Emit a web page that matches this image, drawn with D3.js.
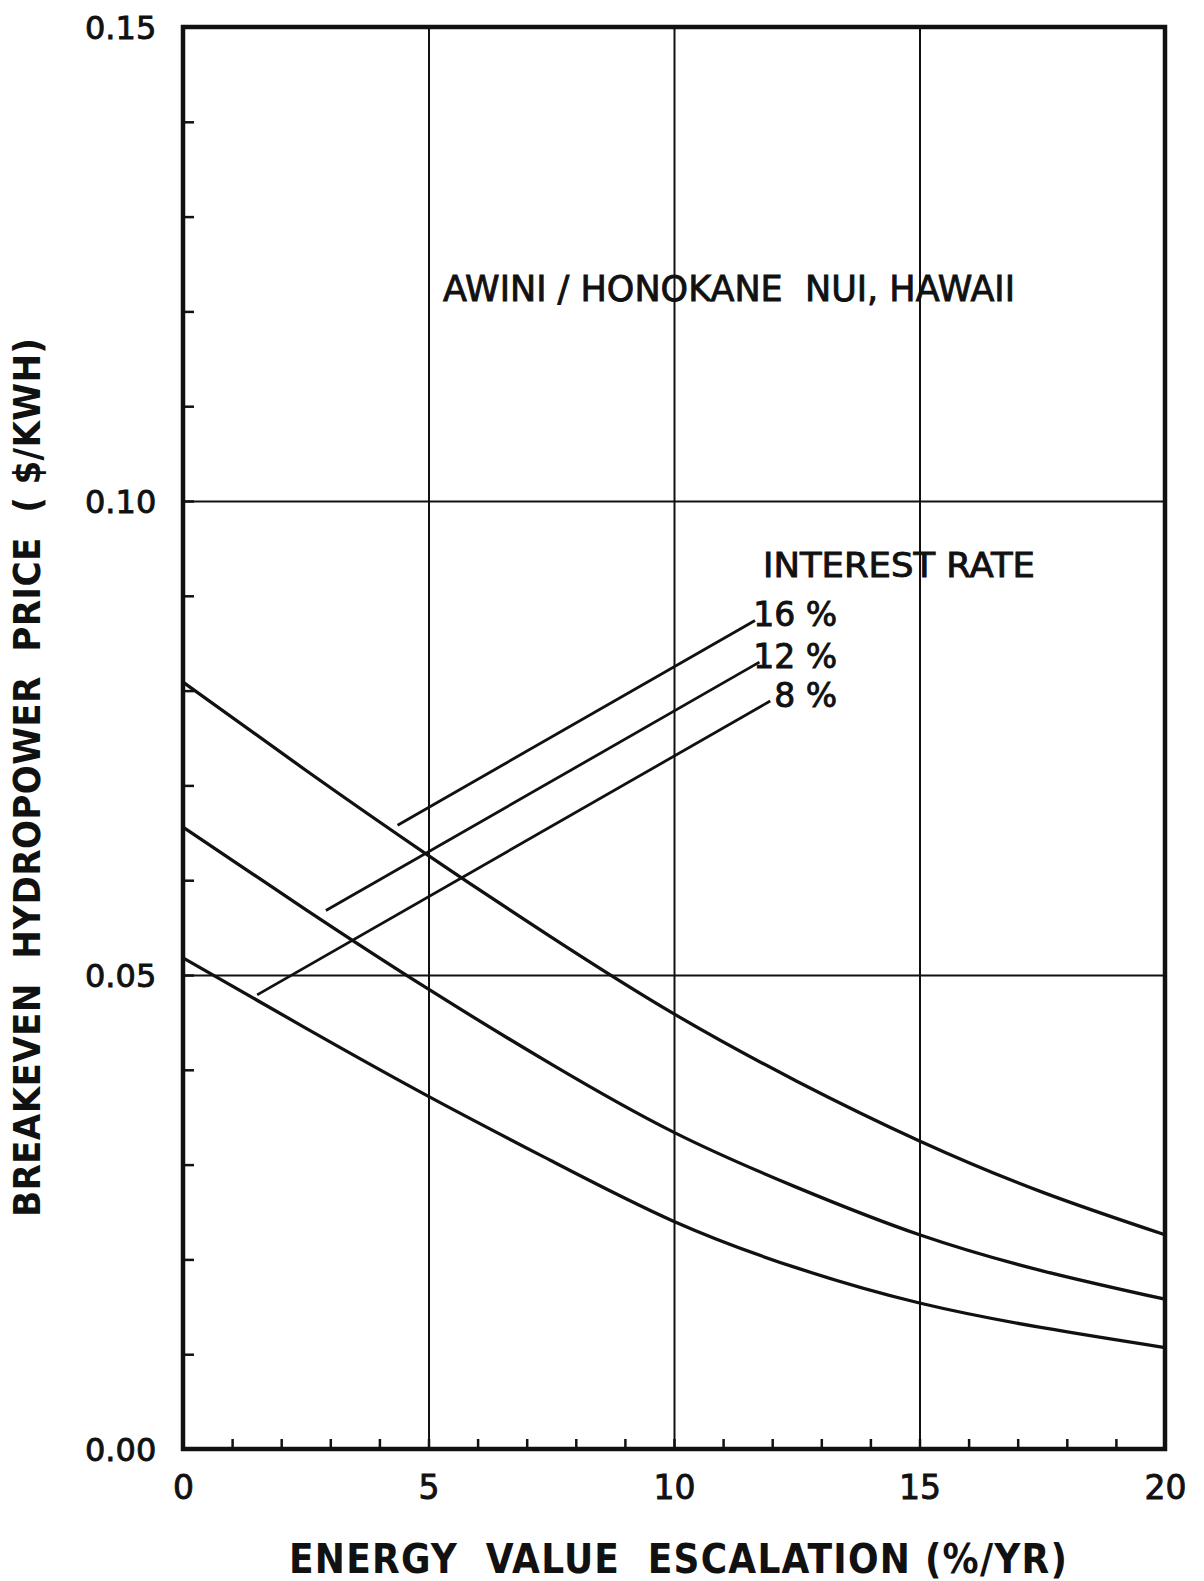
<!DOCTYPE html>
<html>
<head>
<meta charset="utf-8">
<script src="https://cdn.jsdelivr.net/npm/d3@7"></script>
<style>
  body { margin: 0; background: #ffffff; }
  svg text { fill: #111; }
</style>
</head>
<body>
<svg id="chart"></svg>
<script>
var chartWidth = 1204;
var chartHeight = 1581;

/********
 * Data *
 ********/

// energy value escalation (%/yr)
var escalation = [0, 2.5, 5, 7.5, 10, 12.5, 15, 17.5, 20];

// breakeven hydropower price ($/kWh) for each interest rate
var price16 = [0.0809, 0.0716, 0.0626, 0.0540, 0.0459, 0.0388, 0.0325, 0.0271, 0.0226];
var price12 = [0.0656, 0.0569, 0.0485, 0.0406, 0.0334, 0.0276, 0.0226, 0.0188, 0.0158];
var price8  = [0.0518, 0.0444, 0.0372, 0.0304, 0.0240, 0.0191, 0.0154, 0.0128, 0.0107];

// leader lines from the curves to the rate labels
var rateLabels = ["16 %", "12 %", "8 %"];
var leaderX0 = [4.37, 2.91, 1.51];
var leaderY0 = [0.0658, 0.0568, 0.0479];
var leaderX1 = [11.65, 11.74, 11.96];
var leaderY1 = [0.0874, 0.0830, 0.0789];

// ticks
var xTickLabels = [0, 5, 10, 15, 20];
var yTickLabels = [0.00, 0.05, 0.10, 0.15];
var xGrid = [5, 10, 15];
var yGrid = [0.05, 0.10];
var xMinor = d3.range(1, 20);
var yMinor = d3.range(1, 15).map(function(i){ return i / 100; });

/**********
 * Scales *
 **********/

var x = d3.scaleLinear().domain([0, 20]).range([183, 1165]);
var y = d3.scaleLinear().domain([0, 0.15]).range([1449, 27]);

/**************
 * Make Chart *
 **************/

var svg = d3.select("#chart")
    .attr("width", chartWidth)
    .attr("height", chartHeight);

// grid lines
svg.append("g")
    .attr("transform", "translate(0," + y(0) + ")")
    .call(d3.axisBottom(x).tickValues(xGrid).tickSize(-(y(0) - y(0.15))).tickFormat(""))
    .call(function(g){ g.select(".domain").remove(); })
    .selectAll("line")
    .attr("stroke", "#111")
    .attr("stroke-width", 2);

svg.append("g")
    .attr("transform", "translate(" + x(0) + ",0)")
    .call(d3.axisLeft(y).tickValues(yGrid).tickSize(-(x(20) - x(0))).tickFormat(""))
    .call(function(g){ g.select(".domain").remove(); })
    .selectAll("line")
    .attr("stroke", "#111")
    .attr("stroke-width", 2);

// minor ticks, pointing into the plot
svg.append("g")
    .attr("transform", "translate(0," + y(0) + ")")
    .call(d3.axisBottom(x).tickValues(xMinor).tickSize(-10).tickFormat(""))
    .call(function(g){ g.select(".domain").remove(); })
    .selectAll("line")
    .attr("stroke", "#111")
    .attr("stroke-width", 2.5);

svg.append("g")
    .attr("transform", "translate(" + x(0) + ",0)")
    .call(d3.axisLeft(y).tickValues(yMinor).tickSize(-11).tickFormat(""))
    .call(function(g){ g.select(".domain").remove(); })
    .selectAll("line")
    .attr("stroke", "#111")
    .attr("stroke-width", 2.5);

// frame
svg.append("rect")
    .attr("x", x(0))
    .attr("y", y(0.15))
    .attr("width", x(20) - x(0))
    .attr("height", y(0) - y(0.15))
    .attr("fill", "none")
    .attr("stroke", "#111")
    .attr("stroke-width", 4.5);

// tick labels
var xLabels = svg.append("g")
    .attr("transform", "translate(0," + y(0) + ")")
    .call(d3.axisBottom(x).tickValues(xTickLabels).tickSize(0).tickPadding(50).tickFormat(d3.format("d")));
xLabels.select(".domain").remove();
xLabels.selectAll("text")
    .attr("font-family", "DejaVu Sans")
    .attr("font-size", "33px")
    .attr("dy", 0)
    .attr("fill", "#111")
    .attr("stroke", "#111")
    .attr("stroke-width", 0.9);

var yLabels = svg.append("g")
    .attr("transform", "translate(" + x(0) + ",0)")
    .call(d3.axisLeft(y).tickValues(yTickLabels).tickSize(0).tickFormat(d3.format(".2f")));
yLabels.select(".domain").remove();
yLabels.selectAll("text")
    .attr("font-family", "DejaVu Sans")
    .attr("font-size", "32px")
    .attr("text-anchor", "start")
    .attr("x", 85 - x(0))
    .attr("dy", "0.36em")
    .attr("fill", "#111")
    .attr("stroke", "#111")
    .attr("stroke-width", 0.9);

// curves
var line = d3.line()
    .x(function(d){ return x(d[0]); })
    .y(function(d){ return y(d[1]); })
    .curve(d3.curveNatural);

[price16, price12, price8].forEach(function(series){
    svg.append("path")
        .datum(escalation.map(function(e, i){ return [e, series[i]]; }))
        .attr("d", line)
        .attr("fill", "none")
        .attr("stroke", "#111")
        .attr("stroke-width", 3.3);
});

// leader lines and rate labels
rateLabels.forEach(function(label, i){
    svg.append("line")
        .attr("x1", x(leaderX0[i]))
        .attr("y1", y(leaderY0[i]))
        .attr("x2", x(leaderX1[i]))
        .attr("y2", y(leaderY1[i]))
        .attr("stroke", "#111")
        .attr("stroke-width", 2.8);

    svg.append("text")
        .attr("x", 837)
        .attr("y", y(leaderY1[i]) + 6)
        .attr("text-anchor", "end")
        .attr("font-family", "DejaVu Sans")
        .attr("font-size", "33px")
        .attr("stroke", "#111")
        .attr("stroke-width", 0.9)
        .style("white-space", "pre")
        .text(label);
});

svg.append("text")
    .attr("x", 763)
    .attr("y", 577)
    .attr("font-family", "DejaVu Sans")
    .attr("font-size", "33px")
    .attr("stroke", "#111")
    .attr("stroke-width", 0.9)
    .attr("textLength", 272)
    .attr("lengthAdjust", "spacingAndGlyphs")
    .text("INTEREST RATE");

// site title
svg.append("text")
    .attr("x", 443)
    .attr("y", 301)
    .attr("font-family", "DejaVu Sans")
    .attr("font-size", "36px")
    .attr("stroke", "#111")
    .attr("stroke-width", 0.9)
    .attr("textLength", 572)
    .attr("lengthAdjust", "spacingAndGlyphs")
    .style("white-space", "pre")
    .text("AWINI / HONOKANE  NUI, HAWAII");

// axis titles
svg.append("text")
    .attr("class", "x-axis-label")
    .attr("x", 289)
    .attr("y", 1573)
    .attr("font-family", "DejaVu Sans Condensed")
    .attr("font-weight", "bold")
    .attr("font-size", "40px")
    .attr("textLength", 778)
    .attr("lengthAdjust", "spacing")
    .style("white-space", "pre")
    .text("ENERGY  VALUE  ESCALATION (%/YR)");

svg.append("text")
    .attr("class", "y-axis-label")
    .attr("transform", "translate(40,1217) rotate(-90)")
    .attr("font-family", "DejaVu Sans Condensed")
    .attr("font-weight", "bold")
    .attr("font-size", "38px")
    .attr("textLength", 879)
    .attr("lengthAdjust", "spacing")
    .style("white-space", "pre")
    .text("BREAKEVEN  HYDROPOWER  PRICE  ( $/KWH)");
</script>
</body>
</html>
